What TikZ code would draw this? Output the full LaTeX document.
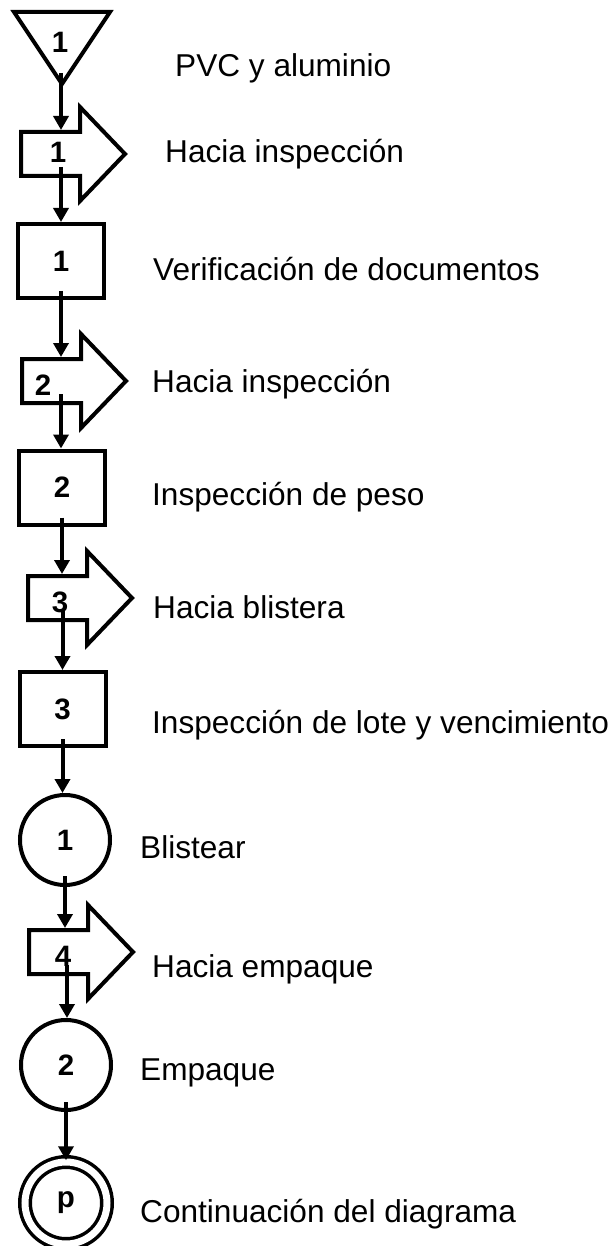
\documentclass[tikz,border=0pt]{standalone}
\usepackage{fontspec}
\setmainfont{Liberation Sans}
\usetikzlibrary{arrows.meta,calc,positioning}
\tikzset{
  forma/.style={line width=4pt,black,line join=miter},
  caja/.style={forma,draw,rectangle,minimum width=86pt,minimum height=74pt,inner sep=0pt},
  circulo/.style={forma,draw,circle,minimum size=90pt,inner sep=0pt},
  conector/.style={forma,draw,circle,line width=3.5pt,double,double distance=7pt,minimum size=82pt,inner sep=0pt},
  num/.style={font=\fontsize{29.5}{31}\selectfont\bfseries,inner sep=0pt},
  etiqueta/.style={font=\fontsize{31.6}{37}\selectfont,anchor=base west,inner sep=0pt},
  flujo/.style={-{Triangle[width=15pt,length=14pt]},line width=4pt}
}
\begin{document}
\begin{tikzpicture}[x=1pt,y=-1pt]
  \useasboundingbox (0,0) rectangle (607,1246);
  % almacenamiento inicial
  \draw[forma] (14,12) -- (110,12) -- (62,84) -- cycle;
  \node[num] (t1) at (60,42) {1};
  \coordinate (t1-out) at (61,73);
  % transportes
  \foreach \nom/\xl/\yc/\xc/\xn/\yn/\num in {a1/19/154/61/58/152/1,a2/20/381/61/43/385/2,a3/26/598/62.5/60/602/3,a4/27/952/67/63/956/4}{
    \draw[forma] (\xl+2,\yc-22) -- (\xl+61,\yc-22) -- (\xl+61,\yc-47) -- (\xl+106,\yc) -- (\xl+61,\yc+47) -- (\xl+61,\yc+22) -- (\xl+2,\yc+22) -- cycle;
    \node[num] (\nom) at (\xn,\yn) {\num};
    \coordinate (\nom-in) at (\xc,\yc-24);
    \coordinate (\nom-out) at (\xc,\yc+13);
  }
  % inspecciones
  \node[caja,num] (r1) at (61,261) {1};
  \node[caja,num] (r2) at (62,487.5) {2};
  \node[caja,num] (r3) at (62.5,709) {3};
  % operaciones
  \node[circulo,num] (c1) at (65,840) {1};
  \node[circulo,num] (c2) at (66,1065) {2};
  \node[conector,num] (p1) at (66,1203) {p};
  % flechas
  \draw[flujo] (t1-out) -- (a1-in);
  \draw[flujo] (a1-out) -- (a1-out |- r1.north);
  \draw[flujo] ([yshift=9pt]r1.south) -- (r1.south |- a2-in);
  \draw[flujo] (a2-out) -- (a2-out |- r2.north);
  \draw[flujo] ([yshift=9pt]r2.south) -- (r2.south |- a3-in);
  \draw[flujo] (a3-out) -- (a3-out |- r3.north);
  \draw[flujo] ([yshift=9pt]r3.south) -- (r3.south |- c1.north);
  \draw[flujo] ([yshift=11pt]c1.south) -- (c1.south |- a4-in);
  \draw[flujo] (a4-out) -- (a4-out |- c2.north);
  \draw[flujo] ([yshift=10pt]c2.south) -- (p1.north);
  % descripciones
  \foreach \xx/\yy/\texto [count=\i] in {175/77/PVC y aluminio,165/163/Hacia inspección,153/280/Verificación de documentos,152/392/Hacia inspección,152/505/Inspección de peso,153/618/Hacia blistera,152/733/Inspección de lote y vencimiento,140/858/Blistear,152/977/Hacia empaque,140/1080/Empaque,140/1222/Continuación del diagrama}{
    \node[etiqueta] (l\i) at (\xx,\yy) {\texto};
  }
\end{tikzpicture}
\end{document}
